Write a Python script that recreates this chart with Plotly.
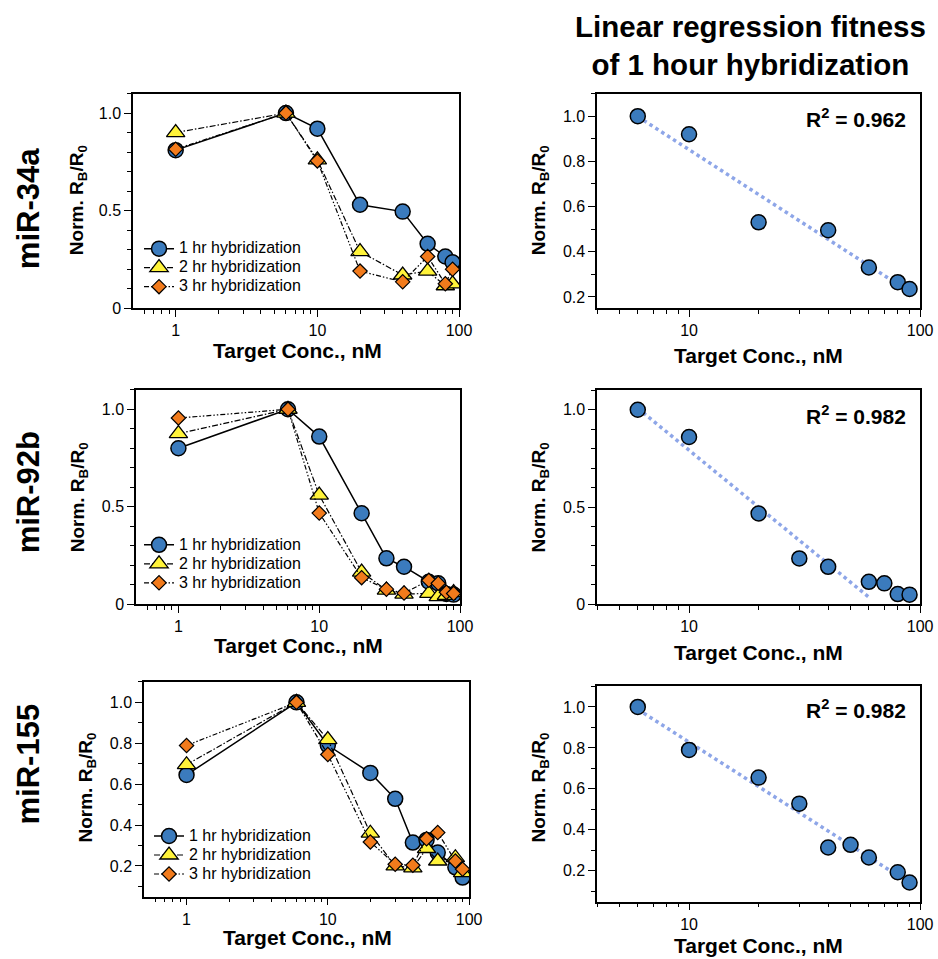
import numpy as np
import plotly.graph_objects as go

W, H = 938, 959
# the captured page comes out very slightly shrunk; positions below are in
# picture pixels and are converted to page fractions with these factors
SX, SY = 0.986, 0.990
FONT = "Liberation Sans, Arial, Helvetica, sans-serif"

# ---------------- data ----------------
mirnas = ["miR-34a", "miR-92b", "miR-155"]
series_names = ["1 hr hybridization", "2 hr hybridization", "3 hr hybridization"]

conc_34a = [1, 6, 10, 20, 40, 60, 80, 90]
hr1_34a = [0.81, 1.00, 0.92, 0.53, 0.495, 0.33, 0.265, 0.235]
hr2_34a = [0.90, 1.00, 0.76, 0.29, 0.17, 0.19, 0.115, 0.125]
hr3_34a = [0.815, 1.00, 0.755, 0.19, 0.135, 0.265, 0.125, 0.20]

conc_92b = [1, 6, 10, 20, 30, 40, 60, 70, 80, 90]
hr1_92b = [0.80, 1.00, 0.86, 0.467, 0.236, 0.193, 0.116, 0.108, 0.053, 0.05]
hr2_92b = [0.875, 1.00, 0.56, 0.165, 0.073, 0.053, 0.056, 0.04, 0.046, 0.06]
hr3_92b = [0.955, 1.00, 0.468, 0.137, 0.078, 0.058, 0.123, 0.108, 0.062, 0.056]

conc_155 = [1, 6, 10, 20, 30, 40, 50, 60, 80, 90]
hr1_155 = [0.645, 1.00, 0.79, 0.655, 0.528, 0.314, 0.327, 0.265, 0.193, 0.143]
hr2_155 = [0.695, 1.00, 0.818, 0.36, 0.20, 0.19, 0.285, 0.224, 0.24, 0.167]
hr3_155 = [0.789, 1.00, 0.745, 0.317, 0.208, 0.203, 0.333, 0.363, 0.224, 0.184]

r2_text = ["0.962", "0.982", "0.982"]
fit_max_conc = [90, 60, 90]   # highest concentration used in each 1 hr regression

panel_data = [
    (conc_34a, [hr1_34a, hr2_34a, hr3_34a]),
    (conc_92b, [hr1_92b, hr2_92b, hr3_92b]),
    (conc_155, [hr1_155, hr2_155, hr3_155]),
]

# ---------------- styles ----------------
BLUE, YELLOW, ORANGE = "#3b7bbd", "#fff33a", "#f27b1c"
FIT_COLOR = "#8ea6e8"
mstyles = [
    dict(symbol="circle", size=15, color=BLUE, line=dict(color="black", width=1.5)),
    dict(symbol="triangle-up", size=16, color=YELLOW, line=dict(color="black", width=1.3)),
    dict(symbol="diamond", size=11, color=ORANGE, line=dict(color="black", width=1.2)),
]
lstyles = [
    dict(color="black", width=1.5, dash="solid"),
    dict(color="black", width=1.2, dash="6px,2px,1.5px,2px"),
    dict(color="black", width=1.2, dash="5px,2px,1.5px,2px,1.5px,2px"),
]

# pixel boxes (x0, x1, ytop, ybottom)
left_boxes = [(133, 459, 93.5, 308), (136, 460, 389.5, 604), (144, 469, 681.5, 896)]
right_boxes = [(597, 920, 93.5, 308), (597, 920, 390, 604), (597, 920, 686, 901)]
left_yranges = [[0, 1.1], [0, 1.1], [0.05, 1.1]]
right_yranges = [[0.15, 1.1], [0, 1.1], [0.05, 1.1]]
left_yticks = [[0, 0.5, 1.0], [0, 0.5, 1.0], [0.2, 0.4, 0.6, 0.8, 1.0]]
right_yticks = [[0.2, 0.4, 0.6, 0.8, 1.0], [0, 0.5, 1.0], [0.2, 0.4, 0.6, 0.8, 1.0]]


def fx(x):
    return min(1.0, x / SX / W)


def fy(y):
    return max(0.0, 1 - y / SY / H)


def ytick_text(v):
    return "0" if v == 0 else f"{v:.1f}"


fig = go.Figure()
layout = dict(
    width=W, height=H, margin=dict(l=0, r=0, t=0, b=0, pad=0),
    paper_bgcolor="white", plot_bgcolor="white",
    font=dict(family=FONT, color="black", size=16),
    showlegend=True,
)

annotations = []
minor_y = [round(0.1 * i, 1) for i in range(0, 12)]


def make_axes(idx, box, yrange, yticks, xrange, xmajor, xminor):
    x0, x1, yt, yb = box
    xa = dict(
        type="log", range=xrange, domain=[fx(x0), fx(x1)], anchor=f"y{idx}" if idx > 1 else "y",
        showline=True, linecolor="black", linewidth=1.5, mirror=True, showgrid=False, zeroline=False,
        ticks="outside", ticklen=7, tickwidth=1.2, tickcolor="black",
        tickvals=xmajor, ticktext=[str(int(v)) for v in xmajor],
        tickfont=dict(size=16, family=FONT, color="black"),
        minor=dict(tickvals=xminor, ticks="outside", ticklen=4, tickwidth=1, tickcolor="black", showgrid=False),
    )
    ya = dict(
        range=yrange, domain=[fy(yb), fy(yt)], anchor=f"x{idx}" if idx > 1 else "x",
        showline=True, linecolor="black", linewidth=1.5, mirror=True, showgrid=False, zeroline=False,
        ticks="outside", ticklen=7, tickwidth=1.2, tickcolor="black",
        tickvals=yticks, ticktext=[ytick_text(v) for v in yticks],
        tickfont=dict(size=16, family=FONT, color="black"),
        minor=dict(tickvals=[v for v in minor_y if yrange[0] <= v <= yrange[1] and v not in yticks],
                   ticks="outside", ticklen=4, tickwidth=1, tickcolor="black", showgrid=False),
    )
    return xa, ya


left_xminor = [0.6, 0.7, 0.8, 0.9] + list(range(2, 10)) + list(range(20, 100, 10))
right_xminor = list(range(4, 10)) + list(range(20, 100, 10))

legend_tops = [234, 530, 821]
legend_lefts = [139, 139, 149]
ytitle_left_x = [78, 79, 87]
ytitle_y = [200, 497, 787]
xtitle_left = [(297, 350), (298, 645), (307, 937)]
xtitle_right = [(758, 355), (758, 652), (758, 945)]
row_label_y = [209, 492, 764]
r2_y = [118, 415, 709]

for i in range(3):
    li = 2 * i + 1
    ri = 2 * i + 2
    xa, ya = make_axes(li, left_boxes[i], left_yranges[i], left_yticks[i],
                       [np.log10(0.5), 2], [1, 10, 100], left_xminor)
    layout["xaxis" if li == 1 else f"xaxis{li}"] = xa
    layout["yaxis" if li == 1 else f"yaxis{li}"] = ya
    xa, ya = make_axes(ri, right_boxes[i], right_yranges[i], right_yticks[i],
                       [np.log10(4), 2], [10, 100], right_xminor)
    layout[f"xaxis{ri}"] = xa
    layout[f"yaxis{ri}"] = ya

    conc, series = panel_data[i]
    legname = "legend" if i == 0 else f"legend{i + 1}"
    xr = "x" if li == 1 else f"x{li}"
    yr = "y" if li == 1 else f"y{li}"
    for s in range(3):
        fig.add_trace(go.Scatter(
            x=conc, y=series[s], mode="lines+markers",
            name=f"<span style='font-size:16px'>{series_names[s]}</span>",
            line=lstyles[s], marker=mstyles[s], xaxis=xr, yaxis=yr, legend=legname,
        ))
    layout[legname] = dict(
        x=fx(legend_lefts[i]), y=fy(legend_tops[i]), xanchor="left", yanchor="top",
        bgcolor="rgba(0,0,0,0)", borderwidth=0, itemwidth=30, tracegroupgap=0,
        font=dict(size=12, family=FONT, color="black"),
    )

    # regression panel (1 hr data only, from 6 nM on)
    cx = np.array(conc[1:], dtype=float)
    cy = np.array(series[0][1:], dtype=float)
    sel = cx <= fit_max_conc[i]
    slope, intercept = np.polyfit(np.log10(cx[sel]), cy[sel], 1)
    fit_x = np.logspace(np.log10(cx[sel].min()), np.log10(cx[sel].max()), 50)
    fit_y = intercept + slope * np.log10(fit_x)
    fig.add_trace(go.Scatter(
        x=fit_x, y=fit_y, mode="lines", line=dict(color=FIT_COLOR, width=3.5, dash="dot"),
        xaxis=f"x{ri}", yaxis=f"y{ri}", showlegend=False, hoverinfo="skip",
    ))
    fig.add_trace(go.Scatter(
        x=cx, y=cy, mode="markers", marker=mstyles[0],
        xaxis=f"x{ri}", yaxis=f"y{ri}", showlegend=False,
    ))

    # texts
    annotations.append(dict(
        text=f"<b>{mirnas[i]}</b>", x=fx(28), y=fy(row_label_y[i]), xref="paper", yref="paper",
        textangle=-90, showarrow=False, font=dict(size=31, family=FONT, color="black"),
        xanchor="center", yanchor="middle",
    ))
    for xc in (ytitle_left_x[i], 540):
        annotations.append(dict(
            text="<b>Norm. R<sub>B</sub>/R<sub>0</sub></b>", x=fx(xc), y=fy(ytitle_y[i]),
            xref="paper", yref="paper", textangle=-90, showarrow=False,
            font=dict(size=19, family=FONT, color="black"), xanchor="center", yanchor="middle",
        ))
    for (xc, yc) in (xtitle_left[i], xtitle_right[i]):
        annotations.append(dict(
            text="<b>Target Conc., nM</b>", x=fx(xc), y=fy(yc), xref="paper", yref="paper",
            showarrow=False, font=dict(size=21, family=FONT, color="black"),
            xanchor="center", yanchor="middle",
        ))
    annotations.append(dict(
        text=f"<b>R<sup>2</sup> = {r2_text[i]}</b>", x=fx(908), y=fy(r2_y[i]), xref="paper", yref="paper",
        showarrow=False, font=dict(size=21, family=FONT, color="black"),
        xanchor="right", yanchor="middle",
    ))

annotations.append(dict(
    text="<b>Linear regression fitness<br>of 1 hour hybridization</b>", x=fx(750), y=fy(45),
    xref="paper", yref="paper", showarrow=False, align="center",
    font=dict(size=29.5, family=FONT, color="black"), xanchor="center", yanchor="middle",
))

layout["annotations"] = annotations
fig.update_layout(**layout)
fig.write_html(
    "out.html",
    config={"displayModeBar": False},
    post_script="document.documentElement.style.margin='0';document.body.style.margin='0';"
                "document.body.style.padding='0';"
                "document.documentElement.style.overflow='hidden';"
                "document.body.style.overflow='hidden';window.scrollTo(0,0);",
)
